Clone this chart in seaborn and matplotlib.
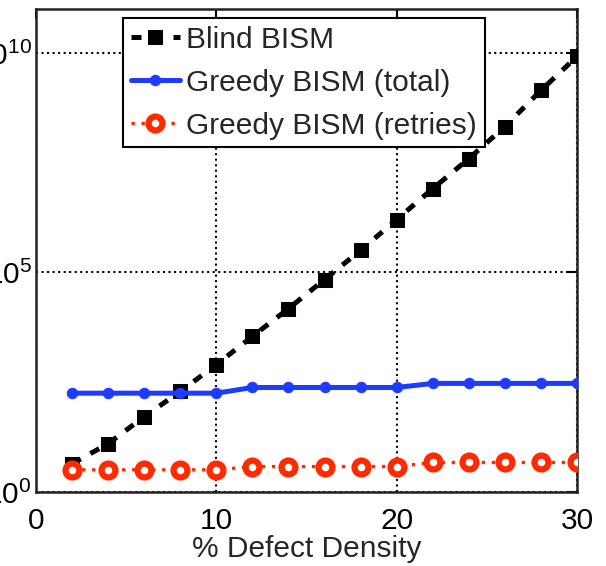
import numpy as np
import pandas as pd
import matplotlib
matplotlib.use('Agg')
import matplotlib.pyplot as plt
from matplotlib.ticker import FixedLocator, NullLocator
import seaborn as sns

# data (x = % defect density)
defect_density = [2, 4, 6, 8, 10, 12, 14, 16, 18, 20, 22, 24, 26, 28, 30]
blind_bism = [4.4, 12.6, 52, 195, 794, 3.5e3, 1.5e4, 6.9e4, 3.2e5, 1.6e6,
              8.1e6, 3.9e7, 2.1e8, 1.4e9, 8.3e9]
greedy_total = [178, 178, 178, 178, 178, 240, 240, 240, 240, 240,
                297, 297, 297, 297, 297]
greedy_retries = [3.2, 3.2, 3.2, 3.2, 3.2, 3.8, 3.8, 3.8, 3.8, 3.8,
                  4.7, 4.7, 4.7, 4.7, 4.7]

series_labels = ['Blind BISM', 'Greedy BISM (total)', 'Greedy BISM (retries)']
y_ticks = [1, 1e5, 1e10]
x_ticks = [0, 10, 20, 30]

df = pd.DataFrame({
    'density': defect_density,
    'blind': blind_bism,
    'total': greedy_total,
    'retries': greedy_retries,
})

sns.set_style('white')
plt.rcParams['font.family'] = ['Liberation Sans', 'DejaVu Sans']
plt.rcParams['mathtext.default'] = 'regular'

FS = 21.5

fig = plt.figure(figsize=(6.06, 5.66), dpi=100)
ax = fig.add_axes([36 / 606, 74 / 566, 541 / 606, 483 / 566])

sns.lineplot(data=df, x='density', y='blind', ax=ax, color='black',
             linestyle=(0, (2, 2.2)), linewidth=3.6, marker='s',
             markersize=9.5, markerfacecolor='black', markeredgecolor='black',
             label=series_labels[0], zorder=3)
sns.lineplot(data=df, x='density', y='total', ax=ax, color='#1e3cff',
             linewidth=3.6, marker='o', markersize=7.5,
             markeredgecolor='#1e3cff', markerfacecolor='#1e3cff',
             label=series_labels[1], zorder=4)
sns.lineplot(data=df, x='density', y='retries', ax=ax, color='#ff2a00',
             linestyle=(0, (1, 2)), linewidth=2.4, marker='o', markersize=10,
             markeredgewidth=4.5, markeredgecolor='#ff2a00',
             markerfacecolor='white', label=series_labels[2], zorder=5)

ax.set_yscale('log')
ax.set_xlim(0, 30)
ax.set_ylim(1, 1e11)
ax.xaxis.set_major_locator(FixedLocator(x_ticks))
ax.yaxis.set_major_locator(FixedLocator(y_ticks))
ax.yaxis.set_minor_locator(NullLocator())
ax.grid(True, which='major', color='black', linestyle=':', linewidth=1.5)

ax.tick_params(axis='both', which='major', direction='in', length=7,
               width=1.5, top=True, right=True, labelsize=FS, colors='black')
ax.tick_params(axis='x', pad=11)
ax.tick_params(axis='y', pad=3)
for s in ax.spines.values():
    s.set_color('#222222')
    s.set_linewidth(1.8)

ax.set_xlabel('% Defect Density', fontsize=FS, labelpad=0)
ax.set_ylabel('')

leg = ax.legend(loc='upper left', bbox_to_anchor=(0.161, 0.981),
                borderaxespad=0, fontsize=FS, handlelength=1.65,
                handletextpad=0.22, labelspacing=0.5, borderpad=0.25,
                fancybox=False, framealpha=1, edgecolor='black')
leg.get_frame().set_linewidth(1.5)

fig.savefig('out.png', dpi=100)
